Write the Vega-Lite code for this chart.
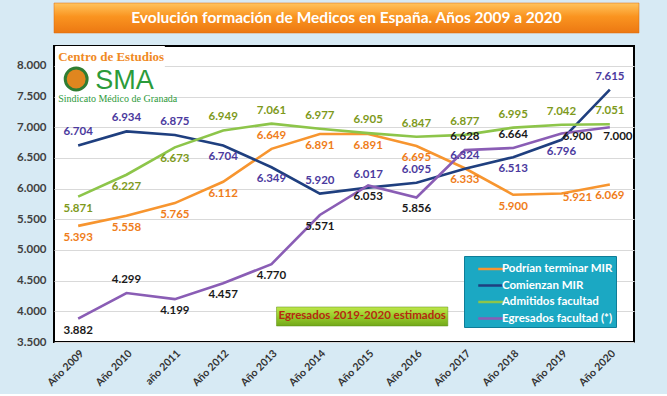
{
  "$schema": "https://vega.github.io/schema/vega-lite/v6.json",
  "background": "#d7eaf4",
  "padding": {"left": 15, "top": 0, "right": 30, "bottom": 4},
  "spacing": 11,
  "config": {
    "locale": {"number": {"decimal": ",", "thousands": ".", "grouping": [3], "currency": ["", " €"]}},
    "font": "Lato",
    "view": {"stroke": null},
    "legend": {
      "orient": "none", "legendX": 410, "legendY": 253, "title": null,
      "fillColor": "#1ba8c3", "strokeColor": "#0e7d98", "padding": 3,
      "labelColor": "white", "labelFont": "Lato", "labelFontWeight": "bold", "labelFontSize": 11.5,
      "symbolType": "M-1.5,0H1.5", "symbolSize": 289, "symbolStrokeWidth": 2.5,
      "rowPadding": 0.5, "symbolOffset": 14, "labelOffset": 1
    }
  },
  "datasets": {
    "series": [
      {"anio": "Año 2009", "serie": "Podrían terminar MIR", "valor": 5393, "pos": "below"},
      {"anio": "Año 2010", "serie": "Podrían terminar MIR", "valor": 5558, "pos": "below"},
      {"anio": "año 2011", "serie": "Podrían terminar MIR", "valor": 5765, "pos": "below"},
      {"anio": "Año 2012", "serie": "Podrían terminar MIR", "valor": 6112, "pos": "below"},
      {"anio": "Año 2013", "serie": "Podrían terminar MIR", "valor": 6649, "pos": "above"},
      {"anio": "Año 2014", "serie": "Podrían terminar MIR", "valor": 6891, "pos": "below"},
      {"anio": "Año 2015", "serie": "Podrían terminar MIR", "valor": 6891, "pos": "below"},
      {"anio": "Año 2016", "serie": "Podrían terminar MIR", "valor": 6695, "pos": "below"},
      {"anio": "Año 2017", "serie": "Podrían terminar MIR", "valor": 6333, "pos": "below"},
      {"anio": "Año 2018", "serie": "Podrían terminar MIR", "valor": 5900, "pos": "below"},
      {"anio": "Año 2019", "serie": "Podrían terminar MIR", "valor": 5921, "pos": "right"},
      {"anio": "Año 2020", "serie": "Podrían terminar MIR", "valor": 6069, "pos": "below"},
      {"anio": "Año 2009", "serie": "Comienzan MIR", "valor": 6704, "pos": "above"},
      {"anio": "Año 2010", "serie": "Comienzan MIR", "valor": 6934, "pos": "above"},
      {"anio": "año 2011", "serie": "Comienzan MIR", "valor": 6875, "pos": "above"},
      {"anio": "Año 2012", "serie": "Comienzan MIR", "valor": 6704, "pos": "below"},
      {"anio": "Año 2013", "serie": "Comienzan MIR", "valor": 6349, "pos": "below"},
      {"anio": "Año 2014", "serie": "Comienzan MIR", "valor": 5920, "pos": "above"},
      {"anio": "Año 2015", "serie": "Comienzan MIR", "valor": 6017, "pos": "above"},
      {"anio": "Año 2016", "serie": "Comienzan MIR", "valor": 6095, "pos": "above"},
      {"anio": "Año 2017", "serie": "Comienzan MIR", "valor": 6324, "pos": "above"},
      {"anio": "Año 2018", "serie": "Comienzan MIR", "valor": 6513, "pos": "below"},
      {"anio": "Año 2019", "serie": "Comienzan MIR", "valor": 6796, "pos": "below"},
      {"anio": "Año 2020", "serie": "Comienzan MIR", "valor": 7615, "pos": "above"},
      {"anio": "Año 2009", "serie": "Admitidos facultad", "valor": 5871, "pos": "below"},
      {"anio": "Año 2010", "serie": "Admitidos facultad", "valor": 6227, "pos": "below"},
      {"anio": "año 2011", "serie": "Admitidos facultad", "valor": 6673, "pos": "below"},
      {"anio": "Año 2012", "serie": "Admitidos facultad", "valor": 6949, "pos": "above"},
      {"anio": "Año 2013", "serie": "Admitidos facultad", "valor": 7061, "pos": "above"},
      {"anio": "Año 2014", "serie": "Admitidos facultad", "valor": 6977, "pos": "above"},
      {"anio": "Año 2015", "serie": "Admitidos facultad", "valor": 6905, "pos": "above"},
      {"anio": "Año 2016", "serie": "Admitidos facultad", "valor": 6847, "pos": "above"},
      {"anio": "Año 2017", "serie": "Admitidos facultad", "valor": 6877, "pos": "above"},
      {"anio": "Año 2018", "serie": "Admitidos facultad", "valor": 6995, "pos": "above"},
      {"anio": "Año 2019", "serie": "Admitidos facultad", "valor": 7042, "pos": "above"},
      {"anio": "Año 2020", "serie": "Admitidos facultad", "valor": 7051, "pos": "above"},
      {"anio": "Año 2009", "serie": "Egresados facultad (*)", "valor": 3882, "pos": "below"},
      {"anio": "Año 2010", "serie": "Egresados facultad (*)", "valor": 4299, "pos": "above"},
      {"anio": "año 2011", "serie": "Egresados facultad (*)", "valor": 4199, "pos": "below"},
      {"anio": "Año 2012", "serie": "Egresados facultad (*)", "valor": 4457, "pos": "below"},
      {"anio": "Año 2013", "serie": "Egresados facultad (*)", "valor": 4770, "pos": "below"},
      {"anio": "Año 2014", "serie": "Egresados facultad (*)", "valor": 5571, "pos": "below"},
      {"anio": "Año 2015", "serie": "Egresados facultad (*)", "valor": 6053, "pos": "below"},
      {"anio": "Año 2016", "serie": "Egresados facultad (*)", "valor": 5856, "pos": "below"},
      {"anio": "Año 2017", "serie": "Egresados facultad (*)", "valor": 6628, "pos": "above"},
      {"anio": "Año 2018", "serie": "Egresados facultad (*)", "valor": 6664, "pos": "above"},
      {"anio": "Año 2019", "serie": "Egresados facultad (*)", "valor": 6900, "pos": "right"},
      {"anio": "Año 2020", "serie": "Egresados facultad (*)", "valor": 7000, "pos": "belowright"}
    ]
  },
  "vconcat": [
    {
      "width": 585,
      "height": 30,
      "data": {"values": [{}]},
      "layer": [
        {
          "mark": {"type": "point", "opacity": 0},
          "encoding": {
            "y": {"datum": 0, "type": "quantitative", "axis": {"labels": false, "ticks": false, "domain": false, "grid": false, "title": null, "minExtent": 20, "maxExtent": 20}}
          }
        },
        {
          "mark": {
            "type": "rect",
            "stroke": "#d8680c", "strokeWidth": 0.5,
            "color": {"gradient": "linear", "x1": 0, "y1": 0, "x2": 0, "y2": 1,
              "stops": [{"offset": 0, "color": "#ffc45e"}, {"offset": 0.45, "color": "#fa9420"}, {"offset": 1, "color": "#ec7812"}]}
          },
          "encoding": {}
        },
        {
          "mark": {"type": "text", "text": "Evolución formación de Medicos en España. Años 2009 a 2020", "color": "white", "fontWeight": "bold", "fontSize": 15.5, "font": "Lato"},
          "encoding": {}
        }
      ]
    },
    {
      "width": 580,
      "height": 296,
      "view": {"fill": "white", "stroke": "#000000", "strokeWidth": 2},
      "data": {"name": "series"},
      "encoding": {
        "x": {
          "field": "anio", "type": "ordinal",
          "scale": {"type": "point", "padding": 0.5, "domain": ["Año 2009", "Año 2010", "año 2011", "Año 2012", "Año 2013", "Año 2014", "Año 2015", "Año 2016", "Año 2017", "Año 2018", "Año 2019", "Año 2020"]},
          "axis": {"labelAngle": -45, "labelFontWeight": "bold", "labelFontSize": 10.5, "labelColor": "#333333", "ticks": false, "domain": false, "labelPadding": 6, "title": null, "grid": false}
        },
        "y": {
          "field": "valor", "type": "quantitative",
          "scale": {"domain": [3500, 8326], "nice": false, "zero": false},
          "axis": {"values": [3500, 4000, 4500, 5000, 5500, 6000, 6500, 7000, 7500, 8000], "format": ",d", "labelFontWeight": "bold", "labelColor": "#404040", "labelFontSize": 11.5, "labelPadding": 8, "ticks": false, "domain": false, "grid": true, "gridColor": "#d9d9d9", "title": null}
        }
      },
      "layer": [
        {
          "transform": [{"filter": "datum.anio == 'Año 2009' && datum.serie == 'Comienzan MIR'"}],
          "mark": {"type": "rect", "color": "white", "xOffset": -23, "x2Offset": -10},
          "encoding": {
            "x": {"datum": "Año 2009", "type": "ordinal"}, "x2": {"datum": "año 2011"},
            "y": {"datum": 8326, "type": "quantitative"}, "y2": {"datum": 7350}
          }
        },
        {
          "transform": [{"filter": "datum.anio == 'Año 2009' && datum.serie == 'Comienzan MIR'"}],
          "mark": {"type": "point", "shape": "circle", "size": 480, "filled": true, "fill": "#e0861f", "stroke": "#2f7d32", "strokeWidth": 3, "opacity": 1, "xOffset": -2},
          "encoding": {"x": {"datum": "Año 2009", "type": "ordinal"}, "y": {"datum": 7788, "type": "quantitative"}}
        },
        {
          "transform": [{"filter": "datum.anio == 'Año 2009' && datum.serie == 'Comienzan MIR'"}],
          "mark": {"type": "text", "text": "Centro de Estudios", "font": "Liberation Serif", "fontWeight": "bold", "fontSize": 13, "color": "#f08a24", "align": "left", "dx": -20},
          "encoding": {"x": {"datum": "Año 2009", "type": "ordinal"}, "y": {"datum": 8147, "type": "quantitative"}}
        },
        {
          "transform": [{"filter": "datum.anio == 'Año 2009' && datum.serie == 'Comienzan MIR'"}],
          "mark": {"type": "text", "text": "SMA", "font": "Liberation Sans", "fontSize": 27, "color": "#2b9b3a", "align": "left", "dx": 17},
          "encoding": {"x": {"datum": "Año 2009", "type": "ordinal"}, "y": {"datum": 7760, "type": "quantitative"}}
        },
        {
          "transform": [{"filter": "datum.anio == 'Año 2009' && datum.serie == 'Comienzan MIR'"}],
          "mark": {"type": "text", "text": "Sindicato Médico de Granada", "font": "Liberation Sans Narrow", "fontSize": 10, "color": "#2f9a3c", "align": "left", "dx": -20},
          "encoding": {"x": {"datum": "Año 2009", "type": "ordinal"}, "y": {"datum": 7465, "type": "quantitative"}}
        },
        {
          "transform": [{"filter": "datum.anio == 'Año 2009' && datum.serie == 'Comienzan MIR'"}],
          "mark": {
            "type": "rect", "xOffset": 5, "x2Offset": -17, "stroke": "#5d8f14", "strokeWidth": 0.5,
            "color": {"gradient": "linear", "x1": 0, "y1": 0, "x2": 0, "y2": 1,
              "stops": [{"offset": 0, "color": "#bde64a"}, {"offset": 0.5, "color": "#97cc2a"}, {"offset": 1, "color": "#72a81a"}]}
          },
          "encoding": {
            "x": {"datum": "Año 2013", "type": "ordinal"}, "x2": {"datum": "Año 2017"},
            "y": {"datum": 4071, "type": "quantitative"}, "y2": {"datum": 3761}
          }
        },
        {
          "transform": [{"filter": "datum.anio == 'Año 2009' && datum.serie == 'Comienzan MIR'"}],
          "mark": {"type": "text", "text": "Egresados 2019-2020 estimados", "fontWeight": "bold", "fontSize": 11.5, "color": "#b52a10", "dx": -6},
          "encoding": {"x": {"datum": "Año 2015", "type": "ordinal"}, "y": {"datum": 3924, "type": "quantitative"}}
        },
        {
          "mark": {"type": "line", "strokeWidth": 2.6},
          "encoding": {
            "stroke": {
              "field": "serie", "type": "nominal",
              "scale": {"domain": ["Podrían terminar MIR", "Comienzan MIR", "Admitidos facultad", "Egresados facultad (*)"], "range": ["#f7952f", "#1f3f7f", "#8dc54a", "#8a5db5"]},
              "legend": {}
            }
          }
        },
        {
          "transform": [{"filter": "datum.pos == 'above'"}],
          "mark": {"type": "text", "dy": -13, "fontWeight": "bold", "fontSize": 11.5},
          "encoding": {
            "text": {"field": "valor", "type": "quantitative", "format": ",d"},
            "fill": {"field": "serie", "type": "nominal", "legend": null,
              "scale": {"domain": ["Podrían terminar MIR", "Comienzan MIR", "Admitidos facultad", "Egresados facultad (*)"], "range": ["#ef7d1a", "#4b3a9e", "#7e9a1c", "#1a1a1a"]}}
          }
        },
        {
          "transform": [{"filter": "datum.pos == 'below'"}],
          "mark": {"type": "text", "dy": 12, "fontWeight": "bold", "fontSize": 11.5},
          "encoding": {
            "text": {"field": "valor", "type": "quantitative", "format": ",d"},
            "fill": {"field": "serie", "type": "nominal", "legend": null}
          }
        },
        {
          "transform": [{"filter": "datum.pos == 'right'"}],
          "mark": {"type": "text", "dx": 16, "dy": 4, "fontWeight": "bold", "fontSize": 11.5},
          "encoding": {
            "text": {"field": "valor", "type": "quantitative", "format": ",d"},
            "fill": {"field": "serie", "type": "nominal", "legend": null}
          }
        },
        {
          "transform": [{"filter": "datum.pos == 'belowright'"}],
          "mark": {"type": "text", "dx": 8, "dy": 10, "fontWeight": "bold", "fontSize": 11.5},
          "encoding": {
            "text": {"field": "valor", "type": "quantitative", "format": ",d"},
            "fill": {"field": "serie", "type": "nominal", "legend": null}
          }
        }
      ]
    }
  ]
}
